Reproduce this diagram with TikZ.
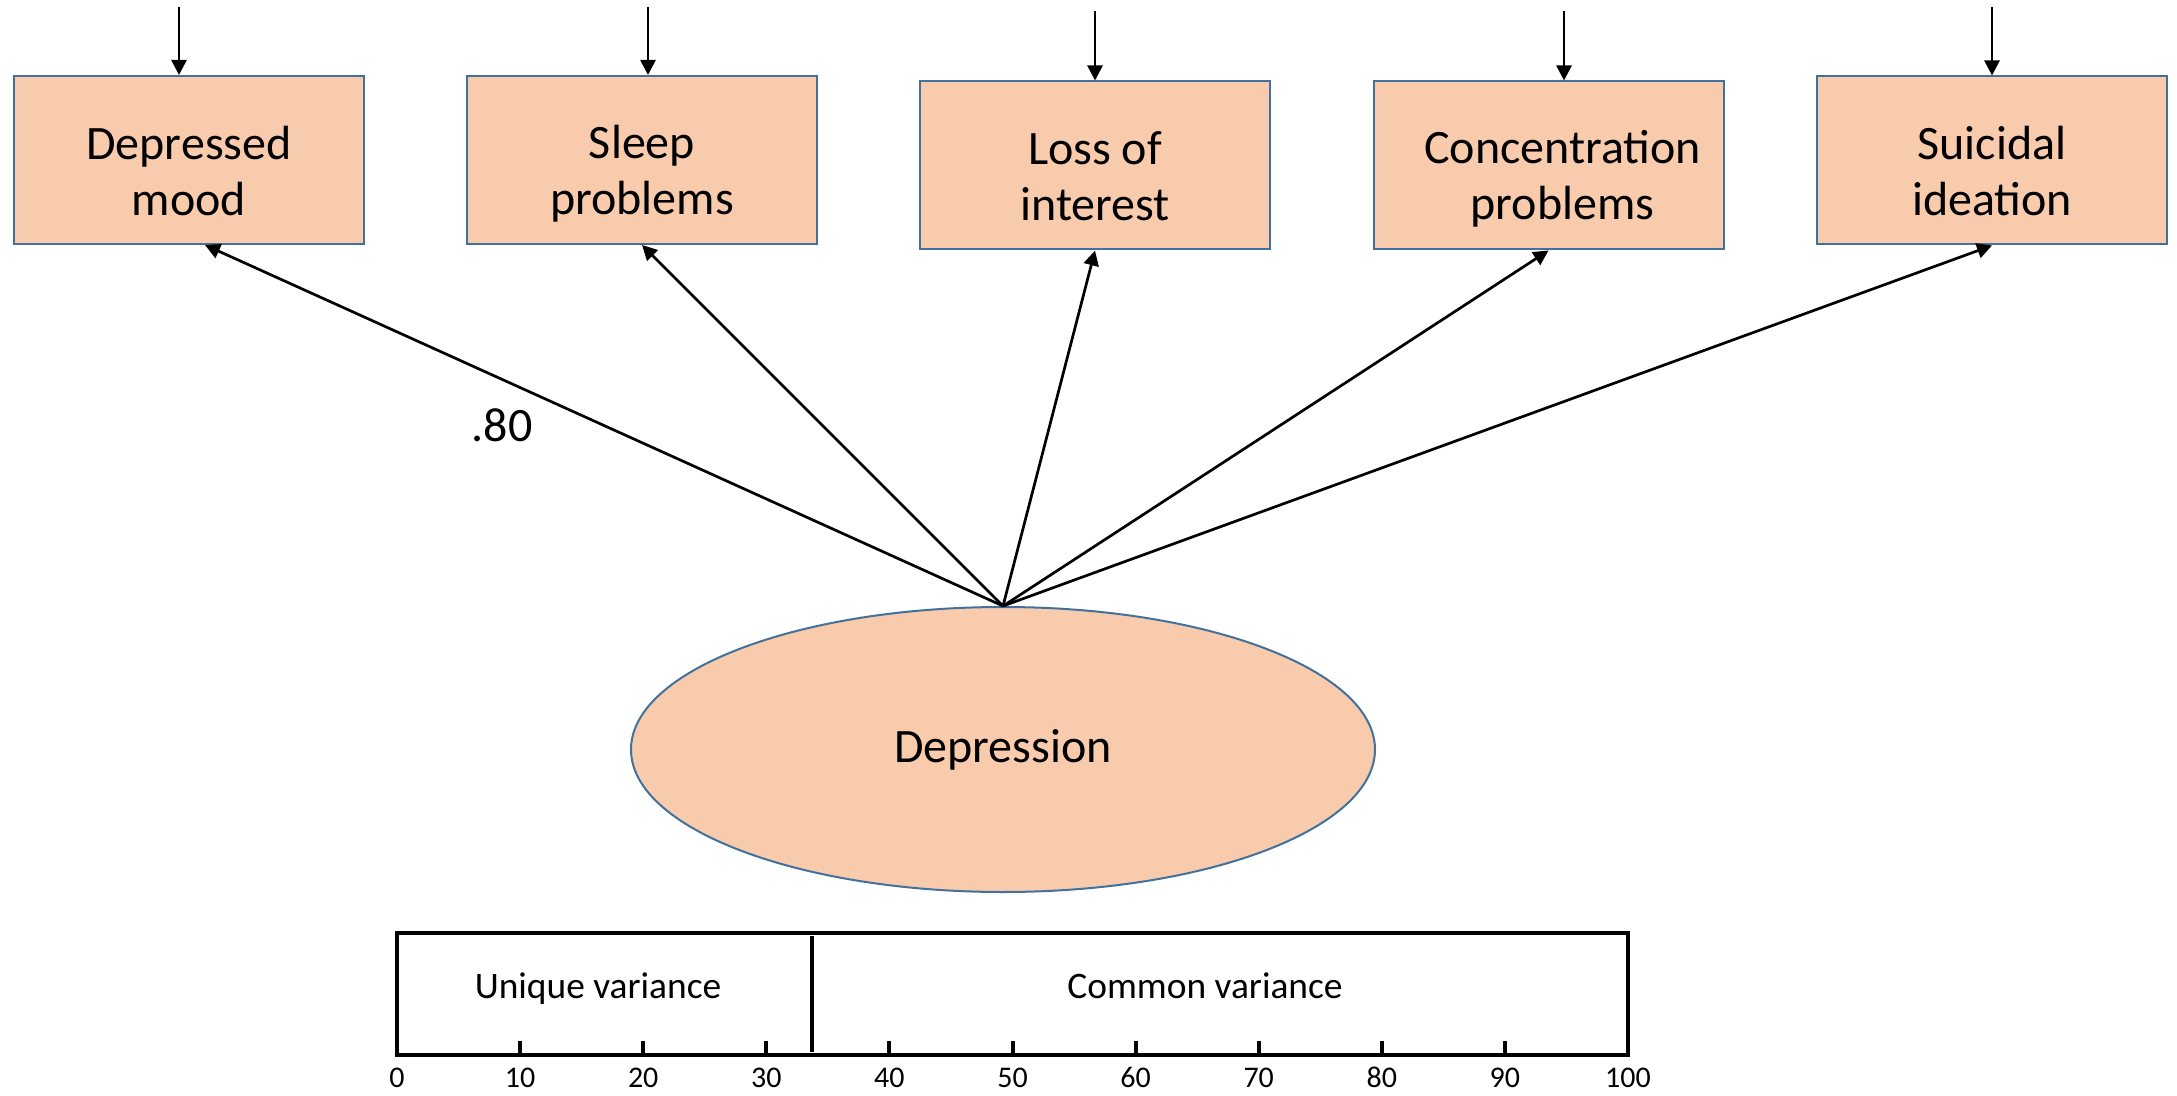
\documentclass[tikz,border=0pt]{standalone}
\usepackage{fontspec}
\setmainfont{Carlito}
\usetikzlibrary{arrows.meta,shapes.geometric,calc}
\definecolor{peach}{HTML}{F8CBAD}
\definecolor{edgeblue}{HTML}{41719C}
\begin{document}
\begin{tikzpicture}[x=0.5pt,y=-0.5pt,
  indicator/.style={draw=edgeblue,fill=peach,line width=1pt,rectangle,
    minimum width=175pt,minimum height=84pt,inner sep=0pt},
  boxtext/.style={align=center,inner sep=0pt,
    font=\fontsize{24pt}{28pt}\selectfont},
  latent/.style={draw=edgeblue,fill=peach,line width=1pt,ellipse,
    minimum width=372pt,minimum height=142.5pt,inner sep=0pt,
    font=\fontsize{24pt}{27.5pt}\selectfont},
  path/.style={line width=1.35pt,-{Triangle[length=7.5pt,width=7.5pt]}},
  barline/.style={line width=2pt},
  ticklab/.style={anchor=base,font=\fontsize{15pt}{18pt}\selectfont,inner sep=0pt},
  barlab/.style={anchor=base,font=\fontsize{18.7pt}{22pt}\selectfont,inner sep=0pt}]
\useasboundingbox (0,0) rectangle (2177,1096);

% observed indicators
\node[indicator] (b1) at (189,160)      {};
\node[indicator] (b2) at (642,160)      {};
\node[indicator] (b3) at (1095,165.5)   {};
\node[indicator] (b4) at (1548.5,165.5) {};
\node[indicator] (b5) at (1992,160.5)   {};
\node[boxtext] (t1) at ([yshift=-5.5pt]b1.center) {Depressed\\mood};
\node[boxtext] (t2) at ([yshift=-7pt]b2.center) {Sleep\\problems};
\node[boxtext] (t3) at ([yshift=-5.5pt]b3.center) {Loss of\\interest};
\node[boxtext] (t4) at ([xshift=7pt,yshift=-6.5pt]b4.center) {Concentration\\problems};
\node[boxtext] (t5) at ([yshift=-5.5pt]b5.center) {Suicidal\\ideation};

% latent factor
\node[latent] (dep) at (1003,749.5) {\raisebox{-1.5pt}{Depression}};

% residual arrows into the indicators
\coordinate (e1) at (179,7);
\coordinate (e2) at (648,7);
\coordinate (e3) at (1095,11);
\coordinate (e4) at (1564,11);
\coordinate (e5) at (1992,7);
\draw[path] (e1) -- (e1 |- b1.north);
\draw[path] (e2) -- (e2 |- b2.north);
\draw[path] (e3) -- (e3 |- b3.north);
\draw[path] (e4) -- (e4 |- b4.north);
\draw[path] (e5) -- (e5 |- b5.north);

% factor loadings
\draw[path] (dep.north) -- ([xshift=8pt]b1.south);
\draw[path] (dep.north) -- (b2.south);
\draw[path] (dep.north) -- (b3.south);
\draw[path] (dep.north) -- (b4.south);
\draw[path] (dep.north) -- (b5.south);

\node[anchor=base,inner sep=0pt,font=\fontsize{24pt}{27.5pt}\selectfont] (load) at (502,441) {.80};

% variance decomposition bar
\draw[barline] (397,933) rectangle (1628,1055);
\draw[barline] (812,936) -- (812,1052);
\foreach \v in {10,20,...,90}{
  \draw[barline] ({397+12.31*\v},1055) -- ({397+12.31*\v},1041);
}
\foreach \v in {0,10,...,100}{
  \node[ticklab] at ({397+12.31*\v},1087) {\v};
}
\node[barlab] (uv) at (598,998) {Unique variance};
\node[barlab] (cv) at (1205,998) {Common variance};
\end{tikzpicture}
\end{document}
